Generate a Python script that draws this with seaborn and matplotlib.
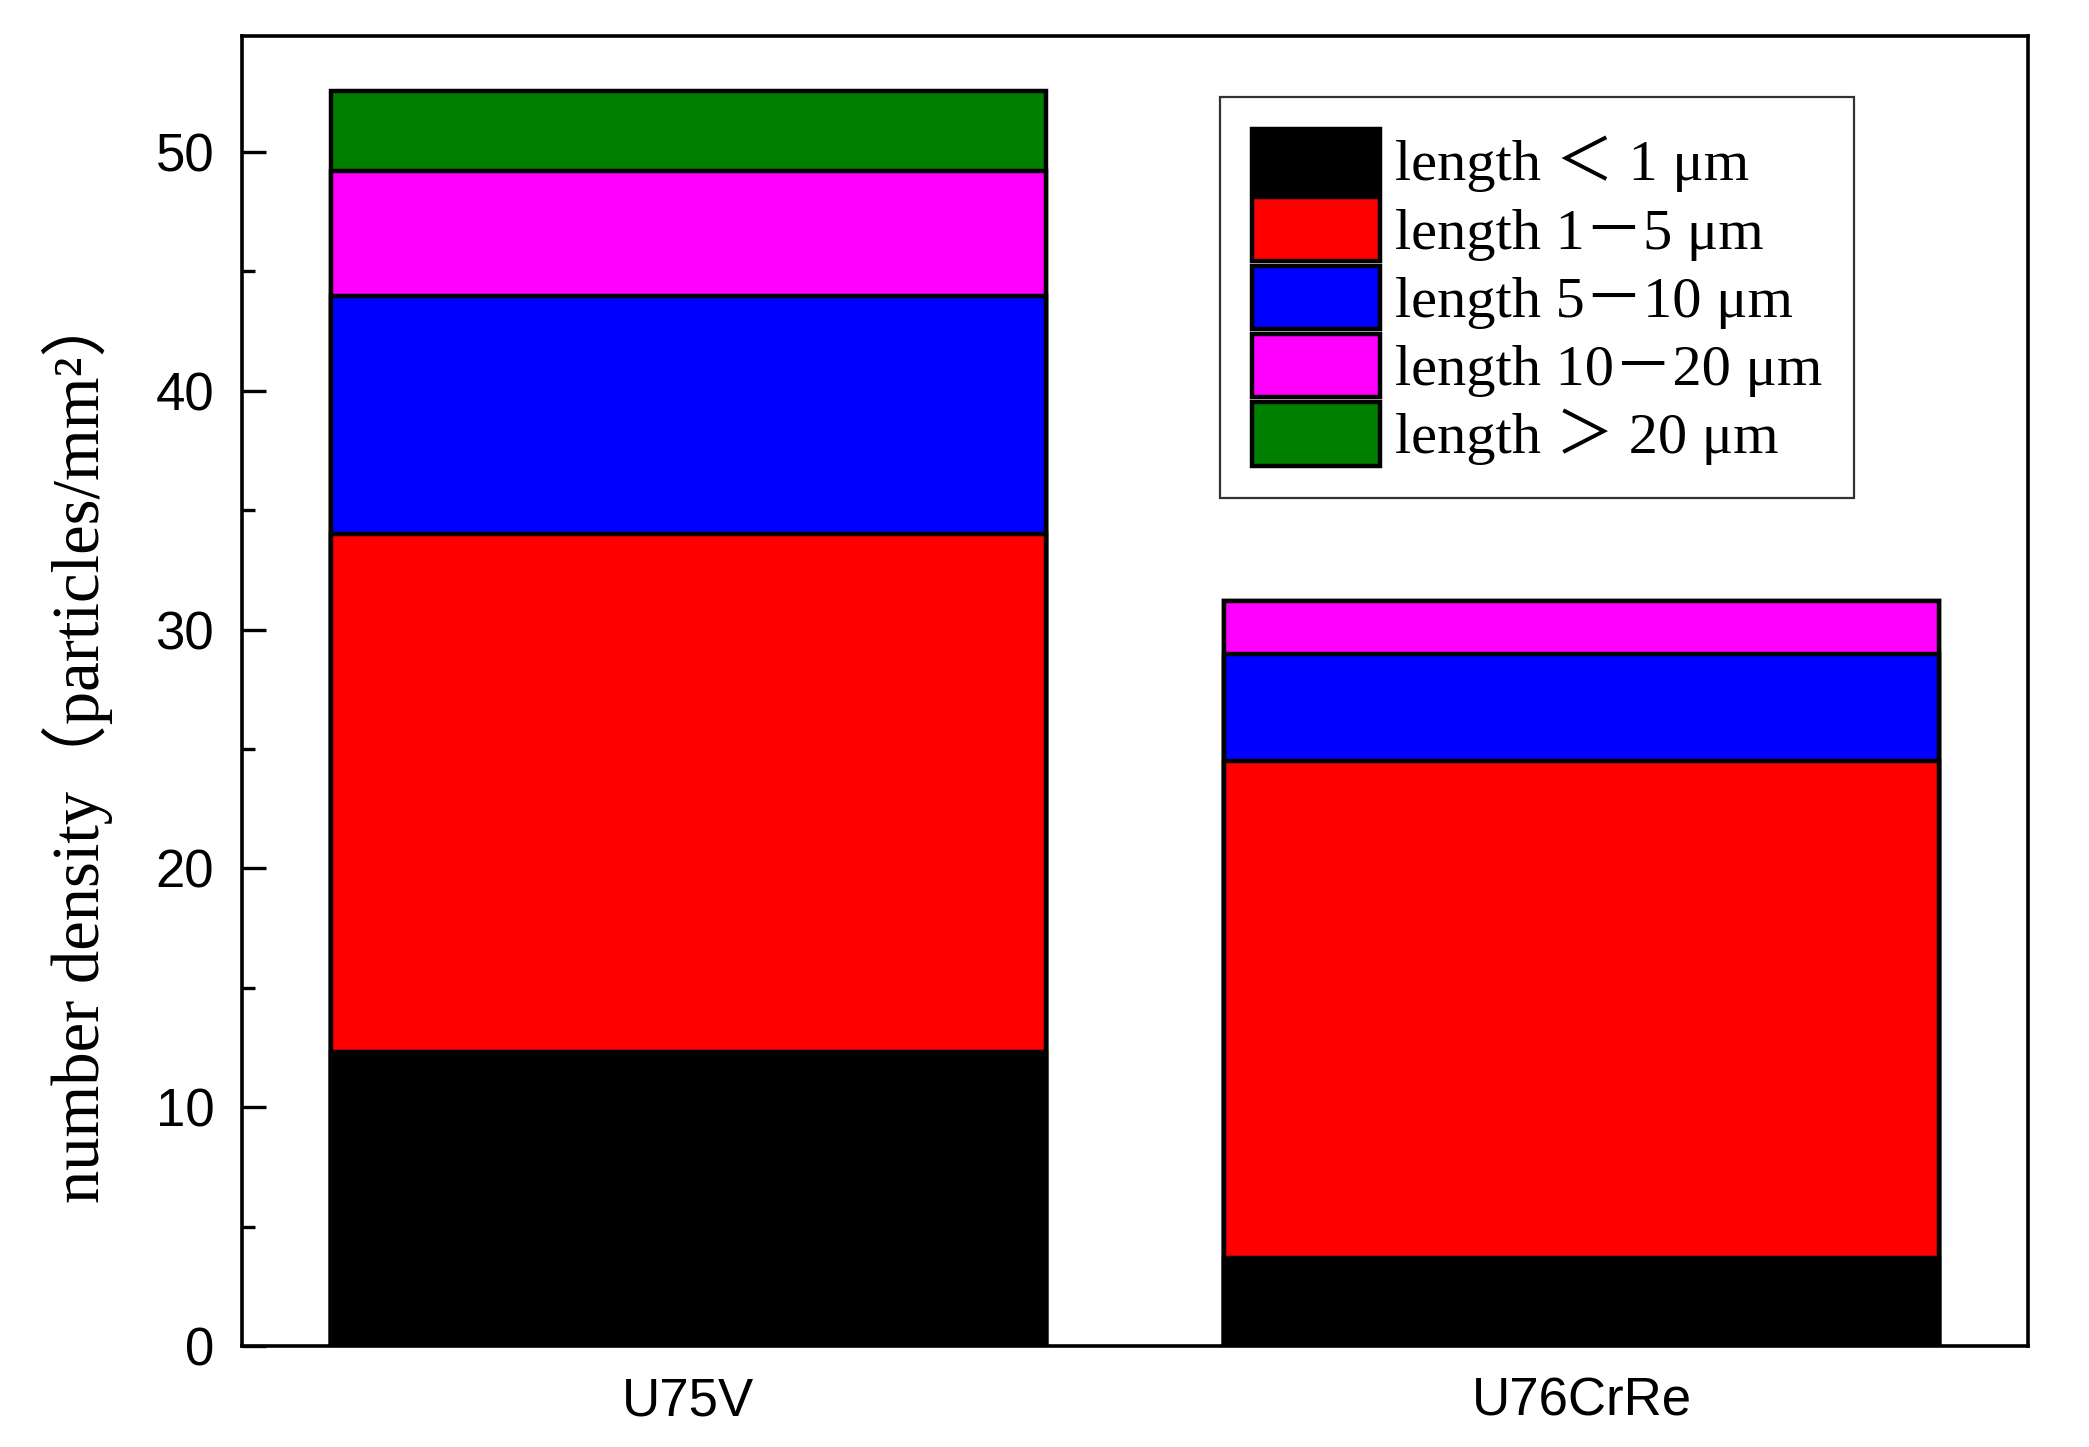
import numpy as np
import pandas as pd
import seaborn as sns
import matplotlib.pyplot as plt
from matplotlib.patches import Patch
from matplotlib.font_manager import FontProperties
from matplotlib.ticker import MultipleLocator

steels = ["U75V", "U76CrRe"]
below_1 = [12.33, 3.68]
from_1_to_5 = [21.65, 20.82]
from_5_to_10 = [10.0, 4.46]
from_10_to_20 = [5.2, 2.24]
above_20 = [3.37, 0.0]

labels = ["length ＜ 1 μm", "length 1－5 μm", "length 5－10 μm",
          "length 10－20 μm", "length ＞ 20 μm"]
colors = ["#000000", "#ff0000", "#0000ff", "#ff00ff", "#008000"]

layers = [below_1, from_1_to_5, from_5_to_10, from_10_to_20, above_20]
cum = np.cumsum(np.array(layers), axis=0)

serif = ["Liberation Serif", "Noto Sans CJK SC"]
plt.rcParams["font.family"] = ["Liberation Sans", "DejaVu Sans"]

fig = plt.figure(figsize=(10.445, 7.235), dpi=200)
ax = fig.add_axes([0.1158, 0.0698, 0.855, 0.9053])

# draw tallest stack first so lower segments sit on top
for i in range(len(layers) - 1, -1, -1):
    df = pd.DataFrame({"steel": steels, "value": cum[i]})
    sns.barplot(data=df, x="steel", y="value", color=colors[i], saturation=1,
                edgecolor="black", linewidth=1.6, width=0.8, ax=ax)

ax.set_xlim(-0.5, 1.5)
ax.set_ylim(0, 54.85)
ax.yaxis.set_major_locator(MultipleLocator(10))
ax.yaxis.set_minor_locator(MultipleLocator(5))
ax.tick_params(axis="y", which="major", direction="in", length=8.5, width=1.2,
               labelsize=19, pad=10)
ax.tick_params(axis="y", which="minor", direction="in", length=4.7, width=1.2)
ax.tick_params(axis="x", length=0, labelsize=19, pad=11)
for s in ax.spines.values():
    s.set_linewidth(1.3)

ax.set_xlabel("")
ax.set_ylabel("number density（particles/mm²）", fontsize=24, family=serif)
ax.yaxis.set_label_coords(-0.072, 0.458)

handles = [Patch(facecolor=c, edgecolor="black", linewidth=1.6) for c in colors]
leg = ax.legend(handles, labels, loc="upper left", bbox_to_anchor=(0.5476, 0.9534),
                prop=FontProperties(family=serif, size=21), frameon=True,
                fancybox=False, edgecolor="black", handlelength=2.2,
                handleheight=1.3, labelspacing=0.08, handletextpad=0.25,
                borderpad=0.55, borderaxespad=0)
leg.get_frame().set_linewidth(0.8)

fig.savefig("out.png", dpi=200)
